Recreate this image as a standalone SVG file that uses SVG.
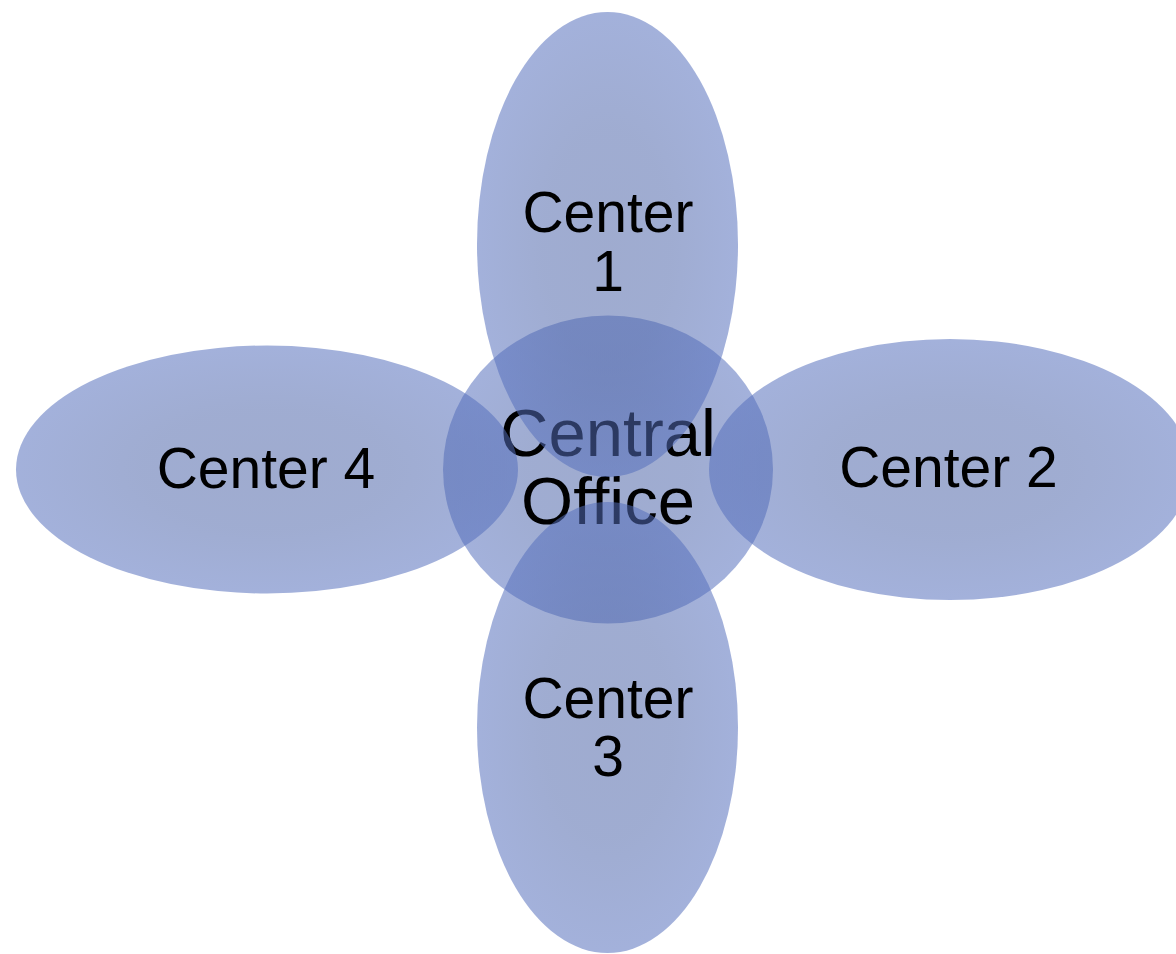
<svg xmlns="http://www.w3.org/2000/svg" width="1176" height="954" viewBox="0 0 1176 954">
<defs>
<radialGradient id="g" cx="0.5" cy="0.5" r="0.5">
<stop offset="0" stop-color="#4C63A6"/>
<stop offset="0.5" stop-color="#4D65AA"/>
<stop offset="1" stop-color="#546EBC"/>
</radialGradient>
</defs>
<style>
.sh{fill:url(#g);fill-opacity:0.537}
.t{font-family:"Liberation Sans",Arial,sans-serif;fill:#000;text-anchor:middle}
.s{font-size:57px}
.c{font-size:67px}
</style>
<rect width="1176" height="954" fill="#fff"/>
<g id="central">
<ellipse class="sh" cx="608" cy="469.5" rx="165" ry="154"/>
<text class="t c" x="608" y="456">Central</text>
<text class="t c" x="608" y="524">Office</text>
</g>
<g id="center1">
<ellipse class="sh" cx="607.5" cy="244.5" rx="130.5" ry="232.5"/>
<text class="t s" x="608" y="232">Center</text>
<text class="t s" x="608" y="291">1</text>
</g>
<g id="center2">
<ellipse class="sh" cx="950" cy="469.5" rx="241" ry="130.5"/>
<text class="t s" x="948.5" y="487">Center 2</text>
</g>
<g id="center3">
<ellipse class="sh" cx="607.5" cy="727.5" rx="130.5" ry="225.5"/>
<text class="t s" x="608" y="718">Center</text>
<text class="t s" x="608" y="776">3</text>
</g>
<g id="center4">
<ellipse class="sh" cx="267" cy="469.5" rx="251" ry="124"/>
<text class="t s" x="266" y="488">Center 4</text>
</g>
<g id="connectors"/>
</svg>
